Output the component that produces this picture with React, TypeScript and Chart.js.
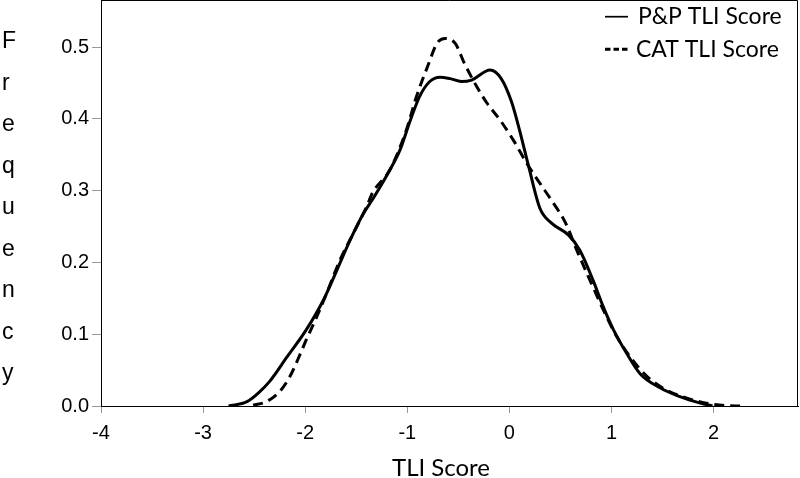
import React, { useEffect, useRef } from 'react';
import { Chart, registerables } from 'chart.js';

Chart.register(...registerables);

// P&P TLI Score density (solid)
const ppX = [-2.75, -2.57, -2.46, -2.35, -2.18, -1.99, -1.82, -1.69, -1.56, -1.43, -1.33, -1.17, -1.07, -0.97, -0.88, -0.78, -0.68, -0.58, -0.47, -0.37, -0.19, -0.08, 0.02, 0.10, 0.19, 0.30, 0.41, 0.58, 0.69, 0.82, 0.92, 1.02, 1.15, 1.28, 1.48, 1.67, 1.87, 1.99];
const ppY = [0, 0.006, 0.018, 0.034, 0.068, 0.106, 0.148, 0.189, 0.231, 0.268, 0.29, 0.329, 0.357, 0.398, 0.431, 0.452, 0.458, 0.456, 0.452, 0.454, 0.468, 0.456, 0.424, 0.384, 0.333, 0.275, 0.255, 0.238, 0.217, 0.175, 0.138, 0.106, 0.073, 0.045, 0.025, 0.013, 0.004, 0];

// CAT TLI Score density (dashed)
const catX = [-2.51, -2.38, -2.25, -2.15, -2.05, -1.99, -1.90, -1.79, -1.66, -1.53, -1.40, -1.34, -1.17, -1.01, -0.91, -0.79, -0.71, -0.63, -0.53, -0.44, -0.32, -0.22, -0.09, 0.04, 0.17, 0.30, 0.41, 0.55, 0.66, 0.79, 0.92, 1.05, 1.18, 1.35, 1.54, 1.74, 1.93, 2.13, 2.26];
const catY = [0.001, 0.006, 0.020, 0.041, 0.072, 0.092, 0.120, 0.157, 0.203, 0.240, 0.277, 0.297, 0.329, 0.384, 0.431, 0.477, 0.505, 0.512, 0.505, 0.477, 0.445, 0.422, 0.398, 0.370, 0.338, 0.310, 0.287, 0.255, 0.217, 0.175, 0.134, 0.097, 0.069, 0.041, 0.022, 0.011, 0.004, 0.0004, 0];

const xTicks = [-4, -3, -2, -1, 0, 1, 2];
const yTicks = [0, 0.1, 0.2, 0.3, 0.4, 0.5];
const seriesNames = ['P&P TLI Score', 'CAT TLI Score'];
const xTitle = 'TLI Score';
const yTitle = 'Frequency';

export default function App() {
  const ref = useRef<HTMLCanvasElement | null>(null);

  useEffect(() => {
    const canvas = ref.current;
    if (!canvas) return;

    const overlay = {
      id: 'overlay',
      afterDraw(chart: any) {
        const { ctx, chartArea: a } = chart;
        ctx.save();
        ctx.strokeStyle = '#000';
        ctx.lineWidth = 1;
        ctx.beginPath();
        ctx.moveTo(a.left, a.top + 0.5);
        ctx.lineTo(a.right - 0.5, a.top + 0.5);
        ctx.lineTo(a.right - 0.5, a.bottom);
        ctx.stroke();

        // legend marks
        ctx.lineWidth = 1.7;
        ctx.beginPath();
        ctx.moveTo(605, 16.7);
        ctx.lineTo(628, 16.7);
        ctx.stroke();
        ctx.lineWidth = 3;
        ctx.setLineDash([5.5, 3]);
        ctx.beginPath();
        ctx.moveTo(605, 49.3);
        ctx.lineTo(628.5, 49.3);
        ctx.stroke();
        ctx.setLineDash([]);

        ctx.fillStyle = '#000';
        ctx.textAlign = 'left';
        ctx.textBaseline = 'alphabetic';
        ctx.font = '23px Lato';
        ctx.fillText(seriesNames[0], 638, 24);
        ctx.fillText(seriesNames[1], 636, 57);

        ctx.font = '24px Lato';
        ctx.textAlign = 'center';
        ctx.fillText(xTitle, 441, 476);

        ctx.font = '23px "Liberation Sans"';
        ctx.textAlign = 'left';
        yTitle.split('').forEach((ch, i) => {
          ctx.fillText(ch, 2, 48 + i * 41.5);
        });
        ctx.restore();
      },
    };

    const chart = new Chart(canvas, {
      type: 'line',
      data: {
        datasets: [
          {
            label: seriesNames[0],
            data: ppX.map((x, i) => ({ x, y: ppY[i] })),
            borderColor: '#000',
            borderWidth: 3,
            pointRadius: 0,
            cubicInterpolationMode: 'monotone',
            fill: false,
          },
          {
            label: seriesNames[1],
            data: catX.map((x, i) => ({ x, y: catY[i] })),
            borderColor: '#000',
            borderWidth: 3,
            borderDash: [10, 6],
            pointRadius: 0,
            cubicInterpolationMode: 'monotone',
            fill: false,
          },
        ],
      },
      options: {
        animation: false,
        responsive: false,
        maintainAspectRatio: false,
        layout: { padding: { top: 0, right: 2, left: 0, bottom: 0 } },
        plugins: { legend: { display: false }, tooltip: { enabled: false } },
        scales: {
          x: {
            type: 'linear',
            min: -4,
            max: 2.827,
            afterBuildTicks: (s: any) => {
              s.ticks = xTicks.map((v) => ({ value: v }));
            },
            afterFit: (s: any) => {
              s.height = 72;
              s.paddingLeft = 0;
              s.paddingRight = 0;
            },
            ticks: {
              autoSkip: false,
              maxRotation: 0,
              padding: 8,
              color: '#000',
              font: { family: '"Liberation Sans"', size: 20 },
              callback: (v: any) => String(v),
            },
            grid: { drawOnChartArea: false, tickLength: 7, tickColor: '#999' },
            border: { color: '#000', width: 1 },
          },
          y: {
            type: 'linear',
            min: 0,
            max: 0.5655,
            afterBuildTicks: (s: any) => {
              s.ticks = yTicks.map((v) => ({ value: v }));
            },
            afterFit: (s: any) => {
              s.width = 101;
              s.paddingTop = 0;
              s.paddingBottom = 0;
            },
            ticks: {
              padding: 3,
              color: '#000',
              font: { family: '"Liberation Sans"', size: 20 },
              callback: (v: any) => Number(v).toFixed(1),
            },
            grid: { drawOnChartArea: false, tickLength: 9, tickColor: '#999' },
            border: { color: '#000', width: 1 },
          },
        },
      },
      plugins: [overlay],
    } as any);

    return () => chart.destroy();
  }, []);

  return (
    <div style={{ position: 'absolute', left: 0, top: 0, width: 800, height: 478, background: '#fff' }}>
      <canvas ref={ref} width={800} height={478} style={{ width: 800, height: 478, display: 'block' }} />
    </div>
  );
}
